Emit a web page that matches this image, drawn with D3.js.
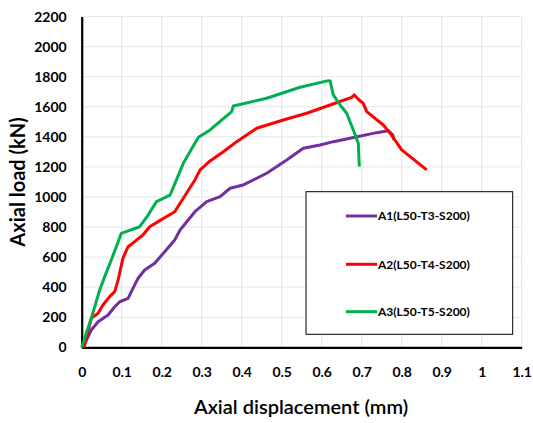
<!DOCTYPE html>
<html><head><meta charset="utf-8">
<script src="https://cdn.jsdelivr.net/npm/d3@7"></script>
<style>body{margin:0;background:#fff;} svg{display:block;font-family:Lato,"Open Sans",sans-serif;}</style>
</head><body>
<script>
const seriesNames = ["A1(L50-T3-S200)", "A2(L50-T4-S200)", "A3(L50-T5-S200)"];
const seriesColors = ["#7030A0", "#FF0000", "#00B050"];
const a1Disp = [0.003,0.024,0.041,0.066,0.0825,0.095,0.116,0.128,0.141,0.1575,0.1825,0.2075,0.2325,0.246,0.283,0.3125,0.346,0.371,0.404,0.4625,0.5125,0.554,0.596,0.629,0.671,0.7375,0.7665,0.7775,0.781];
const a1Load = [0,115,170,215,270,303,326,392,459,514,559,636,714,780,902,969,1002,1058,1080,1158,1246,1324,1346,1368,1391,1428,1441,1413,1379];
const a2Disp = [0.006,0.024,0.041,0.053,0.07,0.0825,0.091,0.103,0.116,0.1325,0.153,0.17,0.191,0.2115,0.2325,0.246,0.283,0.296,0.321,0.354,0.3875,0.4375,0.504,0.5625,0.621,0.675,0.6815,0.6915,0.704,0.7125,0.754,0.771,0.7915,0.8,0.8625];
const a2Load = [0,193,226,281,337,370,448,592,669,703,747,802,836,869,902,958,1113,1180,1240,1301,1368,1457,1512,1557,1612,1663,1679,1650,1623,1568,1479,1424,1346,1313,1180];
const a3Disp = [0,0.024,0.045,0.0575,0.074,0.0865,0.099,0.145,0.166,0.187,0.221,0.254,0.283,0.292,0.321,0.375,0.379,0.4625,0.546,0.6165,0.621,0.629,0.646,0.6625,0.679,0.6915,0.694];
const a3Load = [0,193,381,470,581,669,758,802,880,969,1013,1224,1357,1397,1446,1568,1605,1657,1730,1774,1772,1679,1612,1557,1446,1357,1202];
const xTicks = [0,0.1,0.2,0.3,0.4,0.5,0.6,0.7,0.8,0.9,1,1.1];
const yTicks = [0,200,400,600,800,1000,1200,1400,1600,1800,2000,2200];

const W = 533, H = 423;
const svg = d3.select("body").append("svg").attr("width", W).attr("height", H);
const x = d3.scaleLinear().domain([0, 1.1]).range([81.7, 521.7]);
const y = d3.scaleLinear().domain([0, 2200]).range([347.3, 16.6]);

// grid
svg.append("g").selectAll("line.h").data(yTicks.slice(1)).join("line")
  .attr("x1", x(0)).attr("x2", x(1.1)).attr("y1", d => y(d)).attr("y2", d => y(d))
  .attr("stroke", "#e6e6e6").attr("stroke-width", 1);
svg.append("g").selectAll("line.v").data(xTicks.slice(1)).join("line")
  .attr("x1", d => x(d)).attr("x2", d => x(d)).attr("y1", y(0)).attr("y2", y(2200))
  .attr("stroke", "#e6e6e6").attr("stroke-width", 1);

// axes
const xAxis = svg.append("g").attr("transform", `translate(0,${y(0)})`)
  .call(d3.axisBottom(x).tickValues(xTicks).tickSize(0).tickPadding(20).tickFormat(d => String(d)));
const yAxis = svg.append("g").attr("transform", `translate(${x(0)},0)`)
  .call(d3.axisLeft(y).tickValues(yTicks).tickSize(0).tickPadding(15).tickFormat(d => String(d)));
[xAxis, yAxis].forEach(g => {
  g.select(".domain").attr("stroke", "#000").attr("stroke-width", 2.2);
  g.selectAll("text").attr("font-family", "Lato, sans-serif").attr("font-weight", "bold")
    .attr("font-size", 14).attr("fill", "#000");
});

// series
const series = [[a1Disp, a1Load], [a2Disp, a2Load], [a3Disp, a3Load]];
const line = d3.line().x(d => x(d[0])).y(d => y(d[1]));
series.forEach((s, i) => {
  const pts = s[0].map((d, j) => [d, s[1][j]]);
  svg.append("path").datum(pts).attr("d", line).attr("fill", "none")
    .attr("stroke", seriesColors[i]).attr("stroke-width", 3).attr("stroke-linejoin", "round");
});

// legend
const lg = svg.append("g");
lg.append("rect").attr("x", 306).attr("y", 191.7).attr("width", 206.7).attr("height", 142.6)
  .attr("fill", "#fff").attr("stroke", "#000").attr("stroke-width", 1);
const legY = [216, 264.3, 311.7];
seriesNames.forEach((n, i) => {
  lg.append("line").attr("x1", 346).attr("x2", 377).attr("y1", legY[i]).attr("y2", legY[i])
    .attr("stroke", seriesColors[i]).attr("stroke-width", 3);
  lg.append("text").attr("x", 378).attr("y", legY[i]).attr("dy", "0.35em")
    .attr("font-family", "Lato, sans-serif").attr("font-weight", "bold").attr("font-size", 12)
    .attr("fill", "#000").text(n);
});

// titles
svg.append("text").attr("x", 301).attr("y", 407).attr("dy", "0.35em").attr("text-anchor", "middle")
  .attr("font-family", "Lato, sans-serif").attr("font-weight", 600).attr("font-size", 20).attr("fill", "#000")
  .text("Axial displacement (mm)");
svg.append("text").attr("transform", "translate(18,182) rotate(-90)").attr("dy", "0.35em")
  .attr("text-anchor", "middle").attr("font-family", "Lato, sans-serif").attr("font-weight", "bold")
  .attr("font-size", 20).attr("fill", "#000").text("Axial load (kN)");
</script>
</body></html>
